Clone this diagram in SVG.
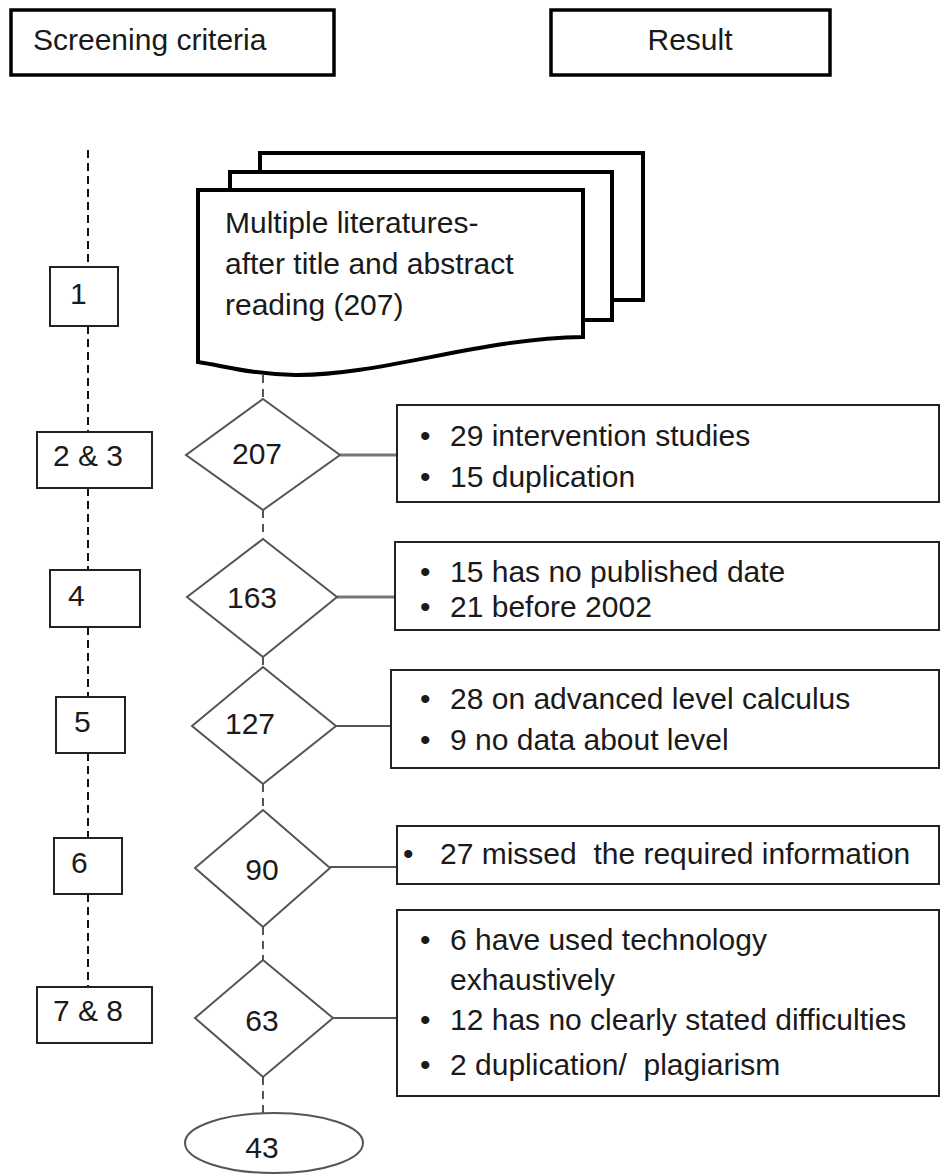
<svg xmlns="http://www.w3.org/2000/svg" width="941" height="1175" viewBox="0 0 941 1175">
  <style>
    text { font-family: "Liberation Sans", Arial, sans-serif; font-size: 30px; fill: #1a1a1a; white-space: pre; }
    .mid { text-anchor: middle; }
    .head { fill: #fff; stroke: #000; stroke-width: 3.5; }
    .step { fill: #fff; stroke: #222; stroke-width: 2; }
    .doc { fill: #fff; stroke: #000; stroke-width: 4; stroke-linejoin: miter; }
    .dec { fill: #fff; stroke: #555; stroke-width: 2; }
    .res { fill: #fff; stroke: #222; stroke-width: 2; }
    .axis { stroke: #111; stroke-width: 2; stroke-dasharray: 8 5; fill: none; }
    .flow { stroke: #555; stroke-width: 2; stroke-dasharray: 8 6; fill: none; }
    .link { stroke: #555; stroke-width: 2; fill: none; }
    .link.heavy { stroke: #777; stroke-width: 3; }
  </style>

  <!-- column headers -->
  <g id="hdr-criteria">
    <rect class="head" x="11" y="10" width="323" height="65"/>
    <text x="33" y="50">Screening criteria</text>
  </g>
  <g id="hdr-result">
    <rect class="head" x="551" y="10" width="279" height="65"/>
    <text class="mid" x="690" y="50">Result</text>
  </g>

  <!-- connectors -->
  <g id="connectors">
    <!-- criteria timeline -->
    <path class="axis" d="M88,150 V267 M88,326 V432 M88,488 V570 M88,627 V697 M88,753 V838 M88,894 V987"/>
    <!-- main flow -->
    <path class="flow" d="M263,375 V399 M263,510 V539 M263,657 V667 M263,784 V810 M263,927 V960 M263,1077 V1113"/>
    <!-- exclusions -->
    <path class="link heavy" d="M340,455 H397"/>
    <path class="link heavy" d="M337,597 H395"/>
    <path class="link" d="M336,726 H391"/>
    <path class="link" d="M330,867 H397"/>
    <path class="link" d="M333,1018 H397"/>
  </g>

  <!-- criteria steps -->
  <g id="step-1">
    <rect class="step" x="50" y="267" width="68" height="59"/>
    <text x="70" y="304">1</text>
  </g>
  <g id="step-2-3">
    <rect class="step" x="37" y="432" width="115" height="56"/>
    <text x="53" y="466">2 &amp; 3</text>
  </g>
  <g id="step-4">
    <rect class="step" x="50" y="570" width="90" height="57"/>
    <text x="68" y="606">4</text>
  </g>
  <g id="step-5">
    <rect class="step" x="56" y="697" width="69" height="56"/>
    <text x="74" y="732">5</text>
  </g>
  <g id="step-6">
    <rect class="step" x="54" y="838" width="68" height="56"/>
    <text x="71" y="873">6</text>
  </g>
  <g id="step-7-8">
    <rect class="step" x="37" y="987" width="115" height="56"/>
    <text x="53" y="1021">7 &amp; 8</text>
  </g>

  <!-- literature pool -->
  <g id="literatures">
    <rect class="doc" x="260" y="153" width="383" height="147"/>
    <rect class="doc" x="230" y="172" width="382" height="148"/>
    <path class="doc" d="M198,190 H583 V337 C480,338 380,376 295,375 C250,374 225,366 198,362 Z"/>
    <text x="225" y="233">Multiple literatures-</text>
    <text x="225" y="274">after title and abstract</text>
    <text x="225" y="315">reading (207)</text>
  </g>

  <!-- decision points -->
  <g id="d207">
    <polygon class="dec" points="263,399 340,455 263,510 186,455"/>
    <text class="mid" x="257" y="464">207</text>
  </g>
  <g id="d163">
    <polygon class="dec" points="263,539 337,597 263,657 187,597"/>
    <text class="mid" x="252" y="608">163</text>
  </g>
  <g id="d127">
    <polygon class="dec" points="263,667 336,726 263,784 192,726"/>
    <text class="mid" x="250" y="734">127</text>
  </g>
  <g id="d90">
    <polygon class="dec" points="263,810 330,868 263,927 195,868"/>
    <text class="mid" x="262" y="880">90</text>
  </g>
  <g id="d63">
    <polygon class="dec" points="263,960 333,1018 263,1077 195,1018"/>
    <text class="mid" x="262" y="1031">63</text>
  </g>

  <!-- final count -->
  <g id="final-43">
    <ellipse class="dec" cx="274" cy="1143" rx="89" ry="30"/>
    <text class="mid" x="262" y="1158">43</text>
  </g>

  <!-- exclusion results -->
  <g id="res-1">
    <rect class="res" x="397" y="405" width="542" height="97"/>
    <text x="420" y="446">•</text>
    <text x="450" y="446">29 intervention studies</text>
    <text x="420" y="487">•</text>
    <text x="450" y="487">15 duplication</text>
  </g>
  <g id="res-2">
    <rect class="res" x="395" y="542" width="544" height="88"/>
    <text x="420" y="582">•</text>
    <text x="450" y="582">15 has no published date</text>
    <text x="420" y="617">•</text>
    <text x="450" y="617">21 before 2002</text>
  </g>
  <g id="res-3">
    <rect class="res" x="391" y="670" width="548" height="98"/>
    <text x="420" y="709">•</text>
    <text x="450" y="709">28 on advanced level calculus</text>
    <text x="420" y="750">•</text>
    <text x="450" y="750">9 no data about level</text>
  </g>
  <g id="res-4">
    <rect class="res" x="397" y="826" width="542" height="58"/>
    <text x="403" y="864">•</text>
    <text x="440" y="864" xml:space="preserve">27 missed  the required information</text>
  </g>
  <g id="res-5">
    <rect class="res" x="397" y="910" width="542" height="186"/>
    <text x="420" y="950">•</text>
    <text x="450" y="950">6 have used technology</text>
    <text x="450" y="990">exhaustively</text>
    <text x="420" y="1030">•</text>
    <text x="450" y="1030">12 has no clearly stated difficulties</text>
    <text x="420" y="1075">•</text>
    <text x="450" y="1075" xml:space="preserve">2 duplication/  plagiarism</text>
  </g>
</svg>
